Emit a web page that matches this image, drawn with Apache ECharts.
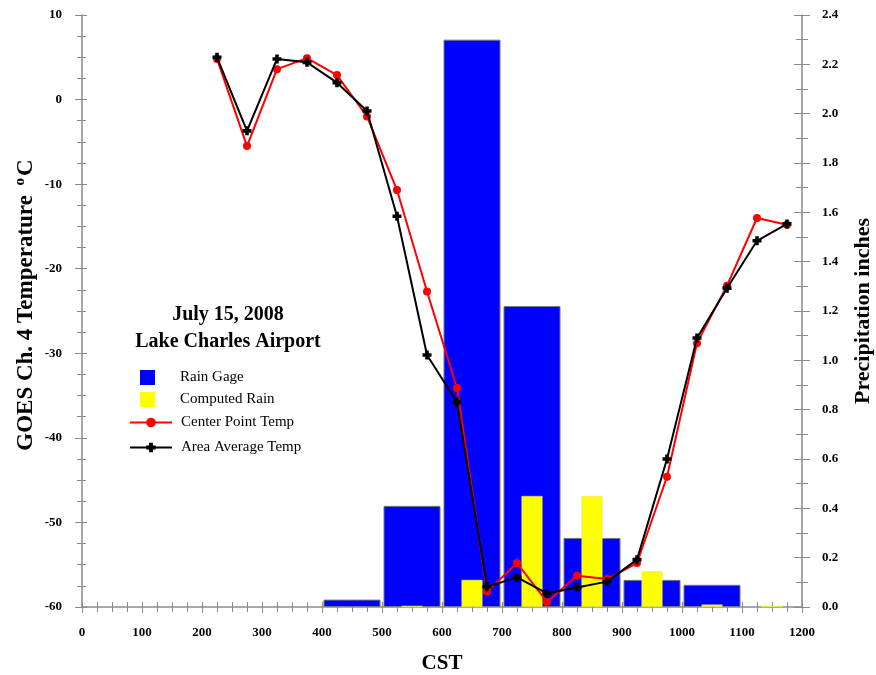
<!DOCTYPE html>
<html>
<head>
<meta charset="utf-8">
<script src="https://cdn.jsdelivr.net/npm/echarts@6/dist/echarts.min.js"></script>
<style>html,body{margin:0;padding:0;background:#fff}#chart{width:876px;height:675px}</style>
</head>
<body>
<div id="chart"></div>
<script>
// ---- data ----
var gageTimes = [450, 550, 650, 750, 850, 950, 1050];
var gageRain = [0.03, 0.41, 2.30, 1.22, 0.28, 0.11, 0.09];
var compTimes = [550, 650, 750, 850, 950, 1050, 1150];
var compRain = [0.005, 0.11, 0.45, 0.45, 0.145, 0.01, 0.005];
var tempTimes = [225, 275, 325, 375, 425, 475, 525, 575, 625, 675, 725, 775, 825, 875, 925, 975, 1025, 1075, 1125, 1175];
var centerTemp = [4.8, -5.5, 3.6, 4.9, 2.9, -2.0, -10.7, -22.7, -34.1, -58.2, -54.8, -59.4, -56.3, -56.7, -54.8, -44.6, -28.8, -22.0, -14.0, -14.8];
var areaTemp = [5.0, -3.7, 4.8, 4.4, 2.0, -1.35, -13.8, -30.2, -35.8, -57.6, -56.5, -58.4, -57.7, -57.0, -54.4, -42.5, -28.2, -22.3, -16.7, -14.7];

function pairs(xs, ys) { return xs.map(function (x, i) { return [x, ys[i]]; }); }

var serif = '"Liberation Serif", "Times New Roman", serif';
var axisGray = '#8a8a8a';
var plusPath = 'path://M3,0H7V3H10V7H7V10H3V7H0V3H3Z';

var chart = echarts.init(document.getElementById('chart'));
chart.setOption({
  animation: false,
  backgroundColor: '#fff',
  title: {
    text: 'July 15, 2008\nLake Charles Airport',
    left: 223, top: 296, textAlign: 'center',
    textStyle: { fontFamily: serif, fontWeight: 'bold', fontSize: 20, lineHeight: 27, color: '#000' }
  },
  legend: [
    {
      orient: 'vertical', left: 135, top: 365, itemWidth: 15, itemHeight: 15, itemGap: 7,
      data: [{ name: 'Rain Gage', icon: 'rect', itemStyle: { borderWidth: 0 } },
             { name: 'Computed Rain', icon: 'rect', itemStyle: { borderWidth: 0 } }],
      textStyle: { fontFamily: serif, fontSize: 15, color: '#000', padding: [0, 0, 0, 20] }
    },
    {
      orient: 'vertical', left: 124, top: 410, itemWidth: 42, itemHeight: 12, itemGap: 10,
      data: ['Center Point Temp', 'Area Average Temp'],
      textStyle: { fontFamily: serif, fontSize: 15, color: '#000', padding: [0, 0, 0, 4] }
    }
  ],
  grid: { left: 82, right: 74, top: 15, bottom: 68, outerBoundsMode: 'none', containLabel: false },
  xAxis: [
    {
      type: 'value', min: 0, max: 1200, interval: 100, position: 'bottom',
      name: 'CST', nameLocation: 'middle', nameGap: 46,
      nameTextStyle: { fontFamily: serif, fontWeight: 'bold', fontSize: 21, color: '#000' },
      axisLine: { show: true, onZero: false, lineStyle: { color: axisGray, width: 1.5 } },
      axisTick: { show: true, inside: false, length: 6, lineStyle: { color: axisGray } },
      minorTick: { show: true, splitNumber: 4, length: 5, lineStyle: { color: axisGray } },
      axisLabel: { fontFamily: serif, fontWeight: 'bold', fontSize: 13, color: '#000', margin: 19,
        formatter: function (v) { return String(v); } },
      splitLine: { show: false }
    },
    {
      type: 'value', min: 0, max: 1200, interval: 100, position: 'bottom',
      axisLine: { show: false, onZero: false },
      axisTick: { show: true, inside: true, length: 5, lineStyle: { color: axisGray } },
      minorTick: { show: true, splitNumber: 4, length: 5, lineStyle: { color: axisGray } },
      axisLabel: { show: false },
      splitLine: { show: false }
    }
  ],
  yAxis: [
    {
      type: 'value', min: -60, max: 10, interval: 10, position: 'left',
      name: 'GOES Ch. 4 Temperature {sup|o}C', nameLocation: 'middle', nameGap: 43,
      nameMoveOverlap: false,
      nameTextStyle: {
        fontFamily: serif, fontWeight: 'bold', fontSize: 23, color: '#000', padding: [0, 0, 0, 12],
        rich: { sup: { fontFamily: serif, fontWeight: 'bold', fontSize: 15, color: '#000', padding: [0, 2, 11, 4] } }
      },
      axisLine: { show: true, onZero: false, lineStyle: { color: axisGray, width: 1.5 } },
      axisTick: { show: true, inside: false, length: 7, lineStyle: { color: axisGray } },
      minorTick: { show: true, splitNumber: 4, length: 5, lineStyle: { color: axisGray } },
      axisLabel: { fontFamily: serif, fontWeight: 'bold', fontSize: 13, color: '#000', margin: 20 },
      splitLine: { show: false }
    },
    {
      type: 'value', min: 0, max: 2.4, interval: 0.2, position: 'right',
      name: 'Precipitation inches', nameLocation: 'middle', nameGap: 50,
      nameTextStyle: { fontFamily: serif, fontWeight: 'bold', fontSize: 22, color: '#000' },
      axisLine: { show: true, onZero: false, lineStyle: { color: axisGray, width: 1.5 } },
      axisTick: { show: true, inside: false, length: 8, lineStyle: { color: axisGray } },
      minorTick: { show: true, splitNumber: 2, length: 6, lineStyle: { color: axisGray } },
      axisLabel: { fontFamily: serif, fontWeight: 'bold', fontSize: 13, color: '#000', margin: 20,
        formatter: function (v) { return v.toFixed(1); } },
      splitLine: { show: false }
    },
    {
      type: 'value', min: -60, max: 10, interval: 10, position: 'left',
      axisLine: { show: false, onZero: false },
      axisTick: { show: true, inside: true, length: 5, lineStyle: { color: axisGray } },
      minorTick: { show: true, splitNumber: 4, length: 4, lineStyle: { color: axisGray } },
      axisLabel: { show: false }, splitLine: { show: false }
    },
    {
      type: 'value', min: 0, max: 2.4, interval: 0.2, position: 'right',
      axisLine: { show: false, onZero: false },
      axisTick: { show: true, inside: true, length: 8, lineStyle: { color: axisGray } },
      minorTick: { show: true, splitNumber: 2, length: 6, lineStyle: { color: axisGray } },
      axisLabel: { show: false }, splitLine: { show: false }
    }
  ],
  series: [
    {
      name: 'Rain Gage', type: 'bar', xAxisIndex: 0, yAxisIndex: 1,
      barWidth: 57, data: pairs(gageTimes, gageRain),
      itemStyle: { color: '#0000ff', borderColor: '#777', borderWidth: 1 }, z: 2
    },
    {
      name: 'Computed Rain', type: 'bar', xAxisIndex: 1, yAxisIndex: 1,
      barWidth: 21, data: pairs(compTimes, compRain),
      itemStyle: { color: '#ffff00', borderColor: '#e0e080', borderWidth: 0.5 }, z: 3
    },
    {
      name: 'Center Point Temp', type: 'line', xAxisIndex: 0, yAxisIndex: 0,
      data: pairs(tempTimes, centerTemp),
      symbol: 'circle', symbolSize: 8,
      lineStyle: { color: '#ff0000', width: 2 }, itemStyle: { color: '#ff0000' }, z: 5
    },
    {
      name: 'Area Average Temp', type: 'line', xAxisIndex: 0, yAxisIndex: 0,
      data: pairs(tempTimes, areaTemp),
      symbol: plusPath, symbolSize: 9,
      lineStyle: { color: '#000000', width: 2 }, itemStyle: { color: '#000000' }, z: 6
    }
  ]
});
</script>
</body>
</html>
